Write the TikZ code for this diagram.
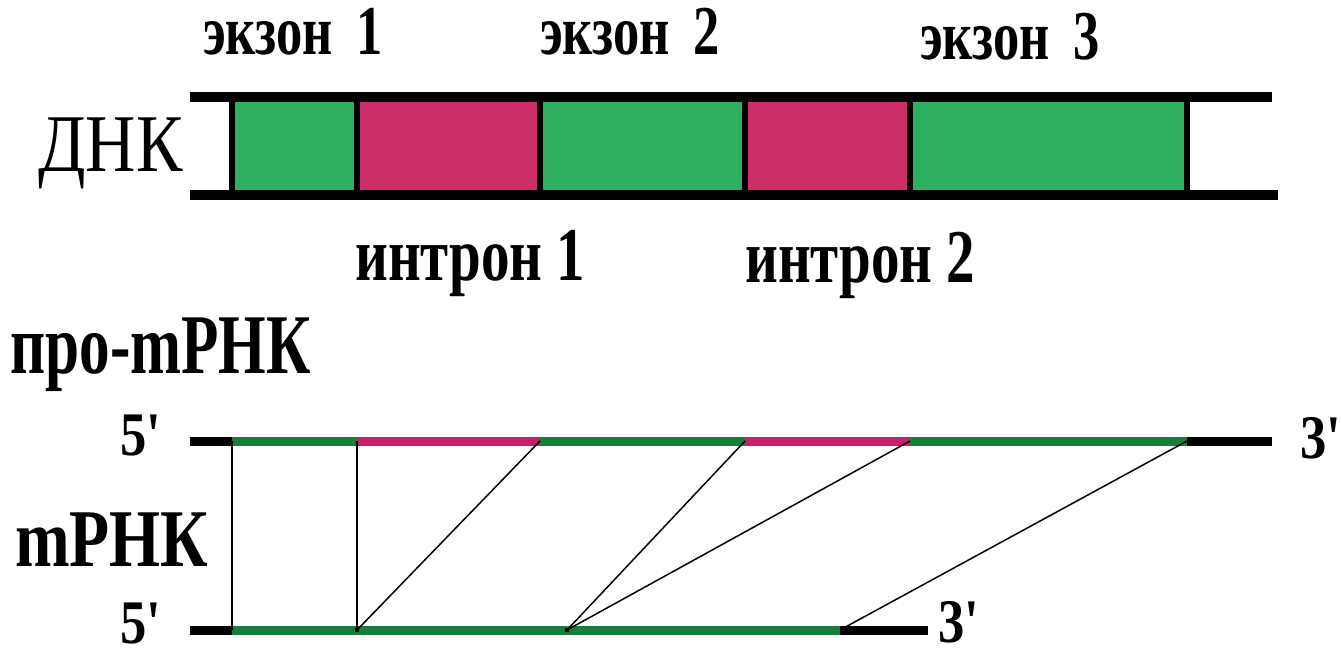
\documentclass[tikz,border=0pt]{standalone}
\usepackage{fontspec}
\setmainfont{Liberation Serif}
\newfontfamily\condA{Liberation Serif}[FakeStretch=0.75]
\newfontfamily\condB{Liberation Serif}[FakeStretch=0.72]
\newfontfamily\condC{Liberation Serif}[FakeStretch=0.85]
\newfontfamily\condD{Liberation Serif}[FakeStretch=0.8]
\definecolor{exg}{RGB}{45,175,95}
\definecolor{inp}{RGB}{205,45,105}
\definecolor{rg}{RGB}{25,125,60}
\definecolor{rp}{RGB}{200,30,110}
\begin{document}
\begin{tikzpicture}[x=1pt,y=-1pt,
  lbl/.style={inner sep=0pt, anchor=base west, font=\condA\bfseries\fontsize{70}{72}\selectfont},
  ilbl/.style={inner sep=0pt, anchor=base west, font=\condA\bfseries\fontsize{76}{78}\selectfont},
  prelbl/.style={inner sep=0pt, anchor=base west, font=\condB\bfseries\fontsize{85}{87}\selectfont},
  mlbl/.style={inner sep=0pt, anchor=base west, font=\condD\bfseries\fontsize{82}{84}\selectfont},
  dnalbl/.style={inner sep=0pt, anchor=base west, font=\condC\fontsize{82}{84}\selectfont},
  endlbl/.style={inner sep=0pt, anchor=base west, font=\condC\bfseries\fontsize{62}{64}\selectfont},
  strand/.style={line width=10pt},
  sep/.style={line width=6pt},
  rna/.style={line width=9pt},
  link/.style={line width=1.5pt}]
\useasboundingbox (0,0) rectangle (1341,655);
% DNA boxes
\fill[exg] (232,100) rectangle (357,192);
\fill[inp] (357,100) rectangle (540,192);
\fill[exg] (540,100) rectangle (745,192);
\fill[inp] (745,100) rectangle (910,192);
\fill[exg] (910,100) rectangle (1187,192);
\draw[strand] (190,97) -- (1272,97);
\draw[strand] (190,195) -- (1278,195);
\foreach \xx in {232,357,540,745,910,1187} \draw[sep] (\xx,97) -- (\xx,195);
% labels
\node[lbl] (e1) at (203,55) {экзон\kern24pt 1};
\node[lbl] (e2) at (540,55) {экзон\kern24pt 2};
\node[lbl] (e3) at (920,60) {экзон\kern24pt 3};
\node[dnalbl] (dna) at (38,172) {ДНК};
\node[ilbl] (i1) at (355,280) {интрон 1};
\node[ilbl] (i2) at (745,282) {интрон 2};
\node[prelbl] (pre) at (10,373) {про-mРНК};
\node[mlbl] (mrna) at (15,566) {mРНК};
\node[endlbl] (p5) at (120,455) {5'};
\node[endlbl] (p3) at (1300,458) {3'};
\node[endlbl] (m5) at (120,643) {5'};
\node[endlbl] (m3) at (938,642) {3'};
% pre-mRNA
\coordinate (pa) at (190,441);
\coordinate (pb) at (232,441);
\coordinate (pc) at (357,441);
\coordinate (pd) at (540,441);
\coordinate (pe) at (745,441);
\coordinate (pf) at (910,441);
\coordinate (pg) at (1187,441);
\coordinate (ph) at (1272,441);
\draw[rna,black] (pa) -- (pb);
\draw[rna,rg] (pb) -- (pc);
\draw[rna,rp] (pc) -- (pd);
\draw[rna,rg] (pd) -- (pe);
\draw[rna,rp] (pe) -- (pf);
\draw[rna,rg] (pf) -- (pg);
\draw[rna,black] (pg) -- (ph);
% mRNA
\coordinate (ma) at (190,630);
\coordinate (mb) at (232,630);
\coordinate (mc) at (357,630);
\coordinate (md) at (567,630);
\coordinate (me) at (840,630);
\coordinate (mf) at (928,630);
\draw[rna,black] (ma) -- (mb);
\draw[rna,rg] (mb) -- (me);
\draw[rna,black] (me) -- (mf);
\draw[line width=4pt] ([xshift=-2pt]mc) -- ([xshift=2pt]mc);
\draw[line width=4pt] ([xshift=-2pt]md) -- ([xshift=2pt]md);
% links
\draw[link] (pb) -- (mb);
\draw[link] (pc) -- (mc);
\draw[link] (pd) -- (mc);
\draw[link] (pe) -- (md);
\draw[link] (pf) -- (md);
\draw[link] (pg) -- (me);
\end{tikzpicture}
\end{document}
